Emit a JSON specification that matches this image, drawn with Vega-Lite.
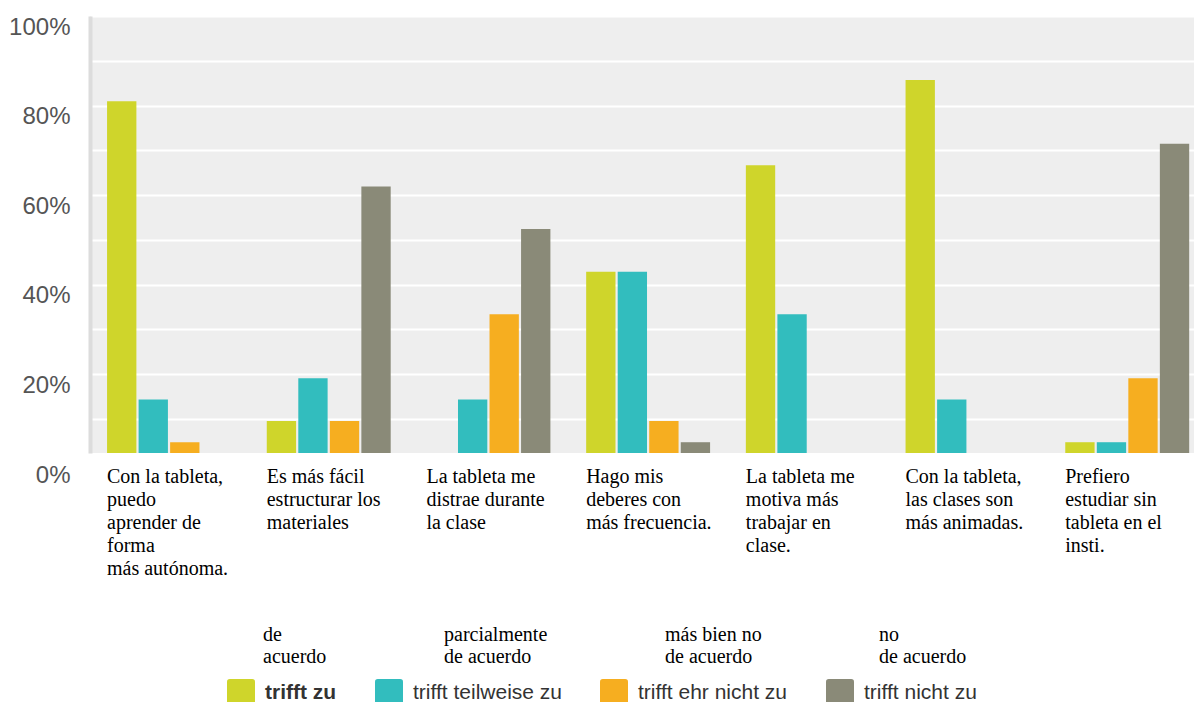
{
  "$schema": "https://vega.github.io/schema/vega-lite/v6.json",
  "autosize": {"type": "none"},
  "padding": {"left": 90, "top": 16, "right": 0, "bottom": 249},
  "width": 1104,
  "height": 437,
  "background": "white",
  "config": {
    "view": {"fill": "#eeeeee", "stroke": null}
  },
  "data": {
    "values": [
      {"q": "Con la tableta,|puedo|aprender de|forma|más autónoma.", "a": "trifft zu", "es": "de|acuerdo", "p": 80.95},
      {"q": "Con la tableta,|puedo|aprender de|forma|más autónoma.", "a": "trifft teilweise zu", "es": "parcialmente|de acuerdo", "p": 14.29},
      {"q": "Con la tableta,|puedo|aprender de|forma|más autónoma.", "a": "trifft ehr nicht zu", "es": "más bien no|de acuerdo", "p": 4.76},
      {"q": "Con la tableta,|puedo|aprender de|forma|más autónoma.", "a": "trifft nicht zu", "es": "no|de acuerdo", "p": 0},
      {"q": "Es más fácil|estructurar los|materiales", "a": "trifft zu", "es": "de|acuerdo", "p": 9.52},
      {"q": "Es más fácil|estructurar los|materiales", "a": "trifft teilweise zu", "es": "parcialmente|de acuerdo", "p": 19.05},
      {"q": "Es más fácil|estructurar los|materiales", "a": "trifft ehr nicht zu", "es": "más bien no|de acuerdo", "p": 9.52},
      {"q": "Es más fácil|estructurar los|materiales", "a": "trifft nicht zu", "es": "no|de acuerdo", "p": 61.9},
      {"q": "La tableta me|distrae durante|la clase", "a": "trifft zu", "es": "de|acuerdo", "p": 0},
      {"q": "La tableta me|distrae durante|la clase", "a": "trifft teilweise zu", "es": "parcialmente|de acuerdo", "p": 14.29},
      {"q": "La tableta me|distrae durante|la clase", "a": "trifft ehr nicht zu", "es": "más bien no|de acuerdo", "p": 33.33},
      {"q": "La tableta me|distrae durante|la clase", "a": "trifft nicht zu", "es": "no|de acuerdo", "p": 52.38},
      {"q": "Hago mis|deberes con|más frecuencia.", "a": "trifft zu", "es": "de|acuerdo", "p": 42.86},
      {"q": "Hago mis|deberes con|más frecuencia.", "a": "trifft teilweise zu", "es": "parcialmente|de acuerdo", "p": 42.86},
      {"q": "Hago mis|deberes con|más frecuencia.", "a": "trifft ehr nicht zu", "es": "más bien no|de acuerdo", "p": 9.52},
      {"q": "Hago mis|deberes con|más frecuencia.", "a": "trifft nicht zu", "es": "no|de acuerdo", "p": 4.76},
      {"q": "La tableta me|motiva más|trabajar en|clase.", "a": "trifft zu", "es": "de|acuerdo", "p": 66.67},
      {"q": "La tableta me|motiva más|trabajar en|clase.", "a": "trifft teilweise zu", "es": "parcialmente|de acuerdo", "p": 33.33},
      {"q": "La tableta me|motiva más|trabajar en|clase.", "a": "trifft ehr nicht zu", "es": "más bien no|de acuerdo", "p": 0},
      {"q": "La tableta me|motiva más|trabajar en|clase.", "a": "trifft nicht zu", "es": "no|de acuerdo", "p": 0},
      {"q": "Con la tableta,|las clases son|más animadas.", "a": "trifft zu", "es": "de|acuerdo", "p": 85.71},
      {"q": "Con la tableta,|las clases son|más animadas.", "a": "trifft teilweise zu", "es": "parcialmente|de acuerdo", "p": 14.29},
      {"q": "Con la tableta,|las clases son|más animadas.", "a": "trifft ehr nicht zu", "es": "más bien no|de acuerdo", "p": 0},
      {"q": "Con la tableta,|las clases son|más animadas.", "a": "trifft nicht zu", "es": "no|de acuerdo", "p": 0},
      {"q": "Prefiero|estudiar sin|tableta en el|insti.", "a": "trifft zu", "es": "de|acuerdo", "p": 4.76},
      {"q": "Prefiero|estudiar sin|tableta en el|insti.", "a": "trifft teilweise zu", "es": "parcialmente|de acuerdo", "p": 4.76},
      {"q": "Prefiero|estudiar sin|tableta en el|insti.", "a": "trifft ehr nicht zu", "es": "más bien no|de acuerdo", "p": 19.05},
      {"q": "Prefiero|estudiar sin|tableta en el|insti.", "a": "trifft nicht zu", "es": "no|de acuerdo", "p": 71.43}
    ]
  },
  "mark": {"type": "bar", "clip": true},
  "encoding": {
    "x": {
      "field": "q",
      "type": "nominal",
      "sort": null,
      "scale": {"paddingInner": 0.224, "paddingOuter": 0.0685, "align": 0.78},
      "axis": {
        "title": null,
        "domain": false,
        "ticks": false,
        "tickSize": 0,
        "labelAngle": 0,
        "labelAlign": "left",
        "labelBaseline": "top",
        "labelOffset": -62,
        "labelPadding": 13,
        "labelFont": "Liberation Serif",
        "labelFontSize": 20,
        "labelLineHeight": 23,
        "labelColor": "#000000",
        "labelLimit": 0,
        "labelOverlap": false,
        "labelBound": false,
        "labelExpr": "split(datum.label, '|')"
      }
    },
    "xOffset": {
      "field": "a",
      "type": "nominal",
      "sort": ["trifft zu", "trifft teilweise zu", "trifft ehr nicht zu", "trifft nicht zu"],
      "scale": {"paddingInner": 0.07, "paddingOuter": 0}
    },
    "y": {
      "field": "p",
      "type": "quantitative",
      "scale": {"domain": [2.35, 100], "zero": false, "nice": false},
      "axis": {
        "title": null,
        "values": [2.35, 10, 20, 30, 40, 50, 60, 70, 80, 90, 100],
        "labelExpr": "datum.value < 5 ? '0%' : (datum.value % 20 === 0 ? datum.value + '%' : '')",
        "grid": true,
        "gridColor": "#ffffff",
        "gridWidth": 2,
        "gridOpacity": {"condition": {"test": "datum.value < 5", "value": 0}, "value": 1},
        "ticks": false,
        "tickSize": 0,
        "domain": true,
        "domainColor": "#dcdcdc",
        "domainWidth": 4,
        "labelFont": "Liberation Sans",
        "labelFontSize": 24,
        "labelColor": "#555555",
        "labelPadding": 20,
        "labelOffset": {"condition": {"test": "datum.value < 5", "value": 22}, "value": 11},
        "labelBound": false,
        "labelOverlap": false
      }
    },
    "color": {
      "field": "a",
      "type": "nominal",
      "scale": {
        "domain": ["trifft zu", "trifft teilweise zu", "trifft ehr nicht zu", "trifft nicht zu"],
        "range": ["#cfd52b", "#32bdbe", "#f6ae20", "#8a8a78"]
      },
      "legend": {
        "title": null,
        "orient": "none",
        "direction": "horizontal",
        "legendX": 137,
        "legendY": 663,
        "symbolType": "M-0.8,-1H0.8Q1,-1 1,-0.8V0.8Q1,1 0.8,1H-0.8Q-1,1 -1,0.8V-0.8Q-1,-1 -0.8,-1Z",
        "symbolSize": 784,
        "symbolStrokeWidth": 0,
        "labelOffset": 10,
        "columnPadding": 38,
        "labelFont": "Liberation Sans",
        "labelFontSize": 21,
        "labelColor": "#333333",
        "labelLimit": 0,
        "padding": 0,
        "encode": {
          "labels": {
            "update": {
              "fontWeight": {"signal": "datum.label === 'trifft zu' ? 'bold' : 'normal'"}
            }
          }
        }
      }
    },
    "opacity": {
      "field": "es",
      "type": "nominal",
      "scale": {
        "domain": ["de|acuerdo", "parcialmente|de acuerdo", "más bien no|de acuerdo", "no|de acuerdo"],
        "range": [1, 1, 1, 1]
      },
      "legend": {
        "title": null,
        "orient": "none",
        "direction": "horizontal",
        "legendX": 153,
        "legendY": 599,
        "symbolSize": 1,
        "symbolOpacity": 0,
        "symbolFillColor": "transparent",
        "symbolStrokeColor": "transparent",
        "symbolStrokeWidth": 0,
        "labelOffset": 0,
        "columnPadding": 97,
        "labelFont": "Liberation Serif",
        "labelFontSize": 20,
        "labelLineHeight": 24,
        "labelColor": "#000000",
        "labelBaseline": "top",
        "labelLimit": 0,
        "padding": 0,
        "labelExpr": "split(datum.label, '|')"
      }
    }
  }
}
